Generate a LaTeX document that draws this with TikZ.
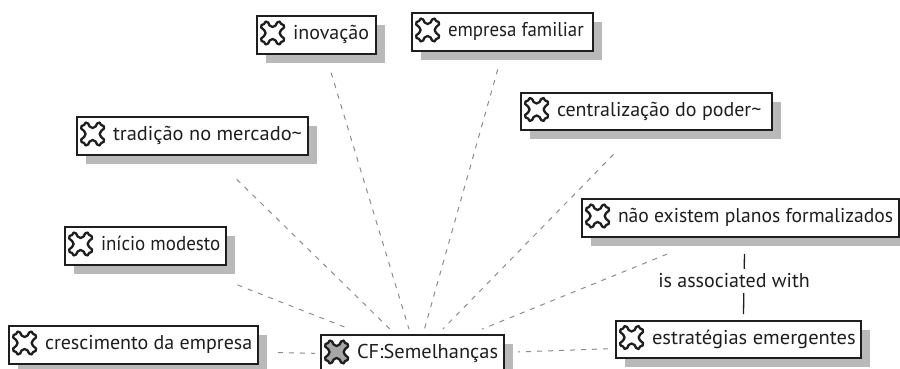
\documentclass[tikz,border=0pt]{standalone}
\usepackage{fontspec}
\usepackage{graphicx}
\setmainfont{PT Sans}
\usetikzlibrary{calc,shadows}
\definecolor{ink}{HTML}{1E1E1E}
\definecolor{shadowgray}{HTML}{B9B9B9}
\definecolor{linkgray}{HTML}{8C8C8C}
\newcommand{\labeltext}[3]{\makebox[#1][l]{\hspace{36pt}\vphantom{Áp}\raisebox{2pt}[0pt][0pt]{\scalebox{#3}[1]{#2}}}}
\tikzset{
  box/.style={draw=ink,line width=1.8pt,fill=white,inner sep=0pt,text=ink,font=\fontsize{20}{24}\selectfont,
    general shadow={fill=shadowgray,shadow xshift=9pt,shadow yshift=-9pt}},
  link/.style={draw=linkgray,line width=1pt,dash pattern=on 5pt off 6pt},
  assoc/.style={draw=ink,line width=1.3pt},
  assoclabel/.style={fill=white,inner sep=0pt,minimum height=24pt,text=ink,font=\fontsize{20}{24}\selectfont},
  pics/gem/.style={code={
    \draw[fill=#1,draw=ink,line width=2.3pt,line join=round]
      (0,-6)--(3,-7.5)--(4.5,-10.5)--(7,-11.5)--(8.5,-9)--(11,-8)--(11.5,-5.5)--(8.5,-3)--(7,0)
      --(8.5,3)--(11.5,5.5)--(11,8)--(8.5,9)--(7,11.5)--(4.5,10.5)--(3,7.5)--(0,6)
      --(-3,7.5)--(-4.5,10.5)--(-7,11.5)--(-8.5,9)--(-11,8)--(-11.5,5.5)--(-8.5,3)--(-7,0)
      --(-8.5,-3)--(-11.5,-5.5)--(-11,-8)--(-8.5,-9)--(-7,-11.5)--(-4.5,-10.5)--(-3,-7.5)--cycle;
  }},
  pics/gem/.default=white
}
\begin{document}
\begin{tikzpicture}[x=1pt,y=-1pt]
\useasboundingbox (0,0) rectangle (900,369);
\clip (0,0) rectangle (900,369);
\node[box,minimum width=119pt,minimum height=38pt] (inovacao) at (316.5,35) {\labeltext{119pt}{inovação}{1}};
\node[box,minimum width=181pt,minimum height=38pt] (empresa) at (502.5,32) {\labeltext{181pt}{empresa familiar}{0.945}};
\node[box,minimum width=251pt,minimum height=37pt] (central) at (646.5,111.5) {\labeltext{251pt}{centralização do poder\textasciitilde}{1}};
\node[box,minimum width=231pt,minimum height=38pt] (tradicao) at (192.5,136) {\labeltext{231pt}{tradição no mercado\textasciitilde}{1.02}};
\node[box,minimum width=161pt,minimum height=38pt] (inicio) at (145.5,246) {\labeltext{161pt}{início modesto}{0.95}};
\node[box,minimum width=249pt,minimum height=38pt] (crescimento) at (133.5,345) {\labeltext{249pt}{crescimento da empresa}{1}};
\node[box,minimum width=183pt,minimum height=38pt] (cf) at (412.5,354) {\labeltext{183pt}{CF:Semelhanças}{1.02}};
\node[box,minimum width=317pt,minimum height=38pt] (nao) at (740.5,218) {\labeltext{317pt}{não existem planos formalizados}{0.98}};
\node[box,minimum width=245pt,minimum height=37pt] (estrategias) at (738.5,339.5) {\labeltext{245pt}{estratégias emergentes}{1.025}};
\foreach \n in {inovacao,empresa,central,tradicao,inicio,crescimento,nao,estrategias}
  \pic at ($(\n.west)+(16.5,-2)$) {gem};
\pic at ($(cf.west)+(16.5,-2)$) {gem=gray!70};
\draw[link,shorten <=34.7pt,shorten >=27.4pt] ($(inovacao.center)+(4.5,4.5)$) -- ($(cf.center)+(4.5,1.5)$);
\draw[link,shorten <=34.2pt,shorten >=27.2pt] ($(empresa.center)+(4.5,4.5)$) -- ($(cf.center)+(4.5,1.5)$);
\draw[link,shorten <=53.7pt,shorten >=37pt] ($(central.center)+(4.5,4.5)$) -- ($(cf.center)+(4.5,1.5)$);
\draw[link,shorten <=55.5pt,shorten >=37.8pt] ($(tradicao.center)+(4.5,4.5)$) -- ($(cf.center)+(4.5,1.5)$);
\draw[link,shorten <=94pt,shorten >=74pt] ($(inicio.center)+(4.5,4.5)$) -- ($(cf.center)+(4.5,1.5)$);
\draw[link,shorten <=140pt,shorten >=102pt] ($(crescimento.center)+(4.5,4.5)$) -- ($(cf.center)+(4.5,1.5)$);
\draw[link,shorten <=84pt,shorten >=70pt] ($(nao.center)+(4.5,4.5)$) -- ($(cf.center)+(4.5,1.5)$);
\draw[link,shorten <=135pt,shorten >=101pt] ($(estrategias.center)+(4.5,4.5)$) -- ($(cf.center)+(4.5,1.5)$);
\draw[assoc,shorten <=31.5pt,shorten >=30pt] ($(nao.center)+(4.5,4.5)$) -- ($(estrategias.center)+(4.5,4.5)$);
\node[assoclabel] (assoclab) at (734,281) {is associated with};
\end{tikzpicture}
\end{document}
